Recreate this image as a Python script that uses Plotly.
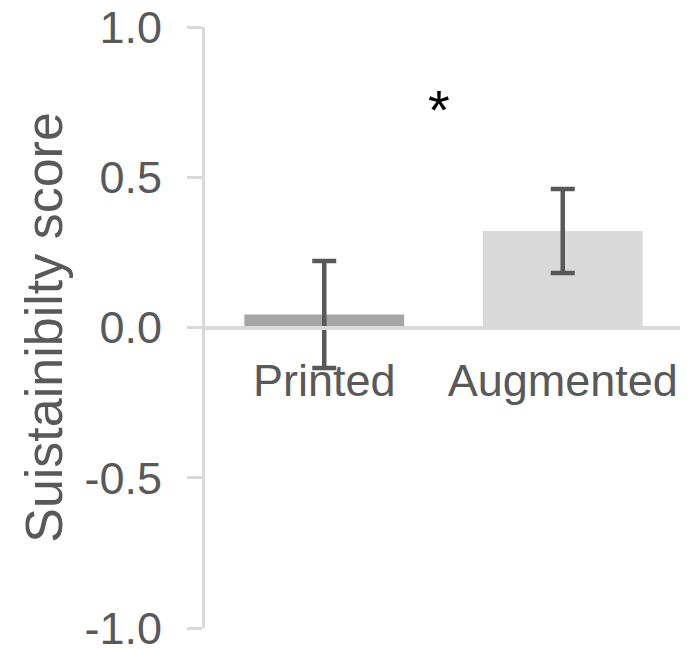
import plotly.graph_objects as go

categories = ["Printed", "Augmented"]
means = [0.043, 0.321]
errors = [0.178, 0.14]
bar_colors = ["#a5a5a5", "#d9d9d9"]
y_tickvals = [-1.0, -0.5, 0.0, 0.5, 1.0]
y_ticktext = ["-1.0", "-0.5", "0.0", "0.5", "1.0"]
sig_label = "*"
sig_x = 0.48
sig_y = 0.725
y_title = "Suistainibilty score"

FONT = "Liberation Sans, Arial, sans-serif"
GRAY = "#595959"
LIGHT = "#d9d9d9"

fig = go.Figure()
fig.add_trace(go.Bar(
    x=categories, y=means,
    marker=dict(color=bar_colors, line=dict(width=0)),
    error_y=dict(type="data", array=errors, visible=True,
                 color=GRAY, thickness=4.5, width=12),
))

fig.add_annotation(x=sig_x, y=sig_y, xref="x", yref="y", text=sig_label,
                   showarrow=False, font=dict(family=FONT, size=56, color="black"),
                   yanchor="middle", xanchor="center")

fig.update_layout(
    width=680, height=641,
    margin=dict(l=197, r=6, t=19, b=21),
    plot_bgcolor="white", paper_bgcolor="white",
    bargap=0.33, showlegend=False,
    font=dict(family=FONT, size=45, color=GRAY),
    xaxis=dict(anchor="free", position=0.5, showline=True, linecolor=LIGHT,
               linewidth=4, ticks="", showgrid=False, zeroline=False,
               automargin=False, ticklabeloverflow="allow",
               tickfont=dict(size=45, color=GRAY), ticklabelstandoff=12),
    yaxis=dict(range=[-1, 1], tickvals=y_tickvals, ticktext=y_ticktext,
               ticks="outside", ticklen=15, tickwidth=3, tickcolor=LIGHT,
               showline=True, linecolor=LIGHT, linewidth=3,
               showgrid=False, zeroline=False,
               automargin=False, ticklabeloverflow="allow",
               tickfont=dict(size=45, color=GRAY), ticklabelstandoff=16,
               title=dict(text=y_title, font=dict(size=52, color=GRAY), standoff=6)),
)

fig.write_html("out.html")
